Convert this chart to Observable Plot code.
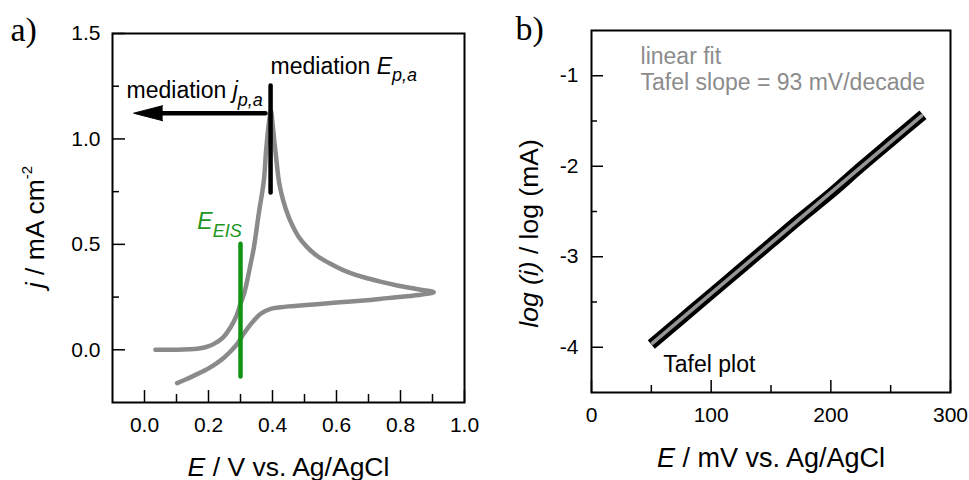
<!DOCTYPE html>
<html><head><meta charset="utf-8">
<script src="https://cdn.jsdelivr.net/npm/d3@7"></script>
<script src="https://cdn.jsdelivr.net/npm/@observablehq/plot@0.6"></script>
<style>
body{margin:0;background:#fff;}
#wrap{position:relative;width:969px;height:480px;overflow:hidden;background:#fff;}
#wrap svg{position:absolute;top:0;}
</style></head><body><div id="wrap"></div>
<script>
// ---------- Panel a: cyclic voltammogram ----------
const cvE = [0.034, 0.10, 0.14, 0.165, 0.19, 0.217, 0.245, 0.269, 0.287, 0.30, 0.312, 0.321, 0.332, 0.342, 0.357, 0.373, 0.38, 0.389, 0.395,
  0.401, 0.405, 0.41, 0.415, 0.42, 0.428, 0.44, 0.456, 0.48, 0.508, 0.54, 0.581, 0.63, 0.685, 0.74, 0.79, 0.85, 0.904,
  0.842, 0.76, 0.685, 0.60, 0.529, 0.46, 0.425, 0.394, 0.363, 0.342, 0.325, 0.31, 0.29, 0.27, 0.25, 0.225, 0.20, 0.175, 0.15, 0.125, 0.102];
const cvJ = [0.0, 0.0, 0.002, 0.005, 0.012, 0.028, 0.058, 0.107, 0.16, 0.218, 0.27, 0.329, 0.41, 0.487, 0.645, 0.803, 0.945, 1.08, 1.135,
  1.06, 1.0, 0.93, 0.86, 0.80, 0.74, 0.675, 0.61, 0.54, 0.487, 0.445, 0.408, 0.372, 0.344, 0.322, 0.305, 0.288, 0.273,
  0.257, 0.245, 0.234, 0.224, 0.215, 0.207, 0.202, 0.194, 0.171, 0.139, 0.108, 0.076, 0.028, -0.006, -0.035, -0.064, -0.088, -0.108, -0.126, -0.143, -0.158];
const aXMajor = [0, 0.2, 0.4, 0.6, 0.8, 1.0];
const aXMinor = [0.1, 0.3, 0.5, 0.7, 0.9];
const aYMajor = [0, 0.5, 1.0, 1.5];
const aYMinor = [0.25, 0.75, 1.25];
const eisE = [0.3, 0.3], eisJ = [-0.127, 0.503];
const epaE = [0.394, 0.394], epaJ = [0.746, 1.253];
const jpaE = [0.378, 0.0], jpaJ = [1.122, 1.122];
const jpaTipE = [-0.034], jpaTipJ = [1.122];
const aNoteText = ["mediation E_p,a", "mediation j_p,a", "E_EIS"];
const aNoteE = [0.394, -0.056, 0.165];
const aNoteJ = [1.31, 1.192, 0.575];
const aNoteColor = ["black", "black", "#1f961f"];

// ---------- Panel b: Tafel plot ----------
const tafelE = [50, 75, 100, 125, 150, 175, 200, 225, 250, 277];
const tafelLog = [-3.97, -3.69, -3.41, -3.13, -2.85, -2.57, -2.30, -2.01, -1.73, -1.43];
const fitE = [51, 276], fitLog = [-3.955, -1.44];
const bXMajor = [0, 100, 200, 300];
const bXMinor = [50, 150, 250];
const bYMajor = [-1, -2, -3, -4];
const bYMinor = [-1.5, -2.5, -3.5];
const bNoteText = ["linear fit", "Tafel slope = 93 mV/decade", "Tafel plot"];
const bNoteE = [41, 41, 60];
const bNoteLog = [-0.865, -1.152, -4.279];
const bNoteColor = ["#8c8c8c", "#8c8c8c", "black"];

const SANS = "'Liberation Sans', Arial, sans-serif";
const SERIF = "'Liberation Serif', 'Times New Roman', serif";
const zip = (xs, ys, kx = "x", ky = "y") => xs.map((v, i) => ({[kx]: v, [ky]: ys[i]}));

const cv = zip(cvE, cvJ);
const eis = zip(eisE, eisJ);
const epa = zip(epaE, epaJ);
const jpa = zip(jpaE, jpaJ);
const aNotes = aNoteText.map((t, i) => ({t, x: aNoteE[i], y: aNoteJ[i], c: aNoteColor[i]}));
const tafel = zip(tafelE, tafelLog);
const fit = zip(fitE, fitLog);
const bNotes = bNoteText.map((t, i) => ({t, x: bNoteE[i], y: bNoteLog[i], c: bNoteColor[i]}));

// Panel a geometry
const aW = 484, aH = 480, aML = 112, aMR = 20, aMT = 33, aMB = 78;
const aIW = aW - aML - aMR, aIH = aH - aMT - aMB;

const plotA = Plot.plot({
  width: aW, height: aH,
  marginLeft: aML, marginRight: aMR, marginTop: aMT, marginBottom: aMB,
  style: {fontFamily: SANS, fontSize: "21px", color: "black", background: "white", overflow: "visible"},
  x: {domain: [-0.1, 1.0]},
  y: {domain: [-0.25, 1.5]},
  marks: [
    Plot.line(cv, {x: "x", y: "y", stroke: "#8a8a8a", strokeWidth: 4.5, curve: "catmull-rom"}),
    Plot.line(eis, {x: "x", y: "y", stroke: "#119411", strokeWidth: 4.5}),
    Plot.line(epa, {x: "x", y: "y", stroke: "black", strokeWidth: 4.5}),
    Plot.line(jpa, {x: "x", y: "y", stroke: "black", strokeWidth: 4.5}),
    Plot.vector(zip(jpaTipE, jpaTipJ), {x: "x", y: "y", length: 29, rotate: -90, shape: "spike", r: 7.5, anchor: "end", fill: "black", stroke: "black", strokeWidth: 1}),
    Plot.text(aNotes, {x: "x", y: "y", text: "t", fill: "c", textAnchor: "start", lineAnchor: "bottom", fontSize: 23, fontFamily: SANS}),
    Plot.tickX(aXMajor, {x: d => d, insetTop: aIH - 12, stroke: "black", strokeWidth: 1.5}),
    Plot.tickX(aXMinor, {x: d => d, insetTop: aIH - 8, stroke: "black", strokeWidth: 1.5}),
    Plot.tickY(aYMajor, {y: d => d, insetRight: aIW - 13, stroke: "black", strokeWidth: 1.5}),
    Plot.tickY(aYMinor, {y: d => d, insetRight: aIW - 7, stroke: "black", strokeWidth: 1.5}),
    Plot.axisX(aXMajor, {tickSize: 0, tickPadding: 15, tickFormat: d3.format(".1f"), label: null, fontSize: 21}),
    Plot.axisY(aYMajor, {tickSize: 0, tickPadding: 12, tickFormat: d3.format(".1f"), label: null, fontSize: 21}),
    Plot.text(["E / V vs. Ag/AgCl"], {text: d => d, frameAnchor: "bottom", dy: 73, textAnchor: "middle", lineAnchor: "bottom", fontSize: 26.5, fontFamily: SANS, fill: "black"}),
    Plot.text(["j / mA cm-2"], {text: d => d, frameAnchor: "left", dx: -69, dy: 9, rotate: -90, textAnchor: "middle", lineAnchor: "bottom", fontSize: 26.5, fontFamily: SANS, fill: "black"}),
    Plot.text(["a)"], {text: d => d, frameAnchor: "top-left", dx: -102, dy: 7, textAnchor: "start", lineAnchor: "bottom", fontSize: 34, fontFamily: SERIF, fill: "black"}),
    Plot.frame({stroke: "black", strokeWidth: 2})
  ]
});

// Panel b geometry
const bW = 485, bH = 480, bML = 107, bMR = 19, bMT = 30, bMB = 88;
const bIW = bW - bML - bMR, bIH = bH - bMT - bMB;

const plotB = Plot.plot({
  width: bW, height: bH,
  marginLeft: bML, marginRight: bMR, marginTop: bMT, marginBottom: bMB,
  style: {fontFamily: SANS, fontSize: "21px", color: "black", background: "white", overflow: "visible"},
  x: {domain: [0, 300]},
  y: {domain: [-4.5, -0.5]},
  marks: [
    Plot.line(tafel, {x: "x", y: "y", stroke: "black", strokeWidth: 11, strokeLinecap: "butt", curve: "catmull-rom"}),
    Plot.line(fit, {x: "x", y: "y", stroke: "#959595", strokeWidth: 3.5}),
    Plot.text(bNotes, {x: "x", y: "y", text: "t", fill: "c", textAnchor: "start", lineAnchor: "bottom", fontSize: 23, fontFamily: SANS}),
    Plot.tickX(bXMajor, {x: d => d, insetTop: bIH - 12, stroke: "black", strokeWidth: 1.5}),
    Plot.tickX(bXMinor, {x: d => d, insetTop: bIH - 7, stroke: "black", strokeWidth: 1.5}),
    Plot.tickY(bYMajor, {y: d => d, insetRight: bIW - 12, stroke: "black", strokeWidth: 1.5}),
    Plot.tickY(bYMinor, {y: d => d, insetRight: bIW - 6, stroke: "black", strokeWidth: 1.5}),
    Plot.axisX(bXMajor, {tickSize: 0, tickPadding: 15, tickFormat: d => String(d), label: null, fontSize: 21}),
    Plot.axisY(bYMajor, {tickSize: 0, tickPadding: 13, tickFormat: d => String(d), label: null, fontSize: 21}),
    Plot.text(["E / mV vs. Ag/AgCl"], {text: d => d, frameAnchor: "bottom", dy: 74, textAnchor: "middle", lineAnchor: "bottom", fontSize: 27, fontFamily: SANS, fill: "black"}),
    Plot.text(["log (i) / log (mA)"], {text: d => d, frameAnchor: "left", dx: -54, dy: 22, rotate: -90, textAnchor: "middle", lineAnchor: "bottom", fontSize: 26.5, fontFamily: SANS, fill: "black"}),
    Plot.text(["b)"], {text: d => d, frameAnchor: "top-left", dx: -76, dy: 9, textAnchor: "start", lineAnchor: "bottom", fontSize: 34, fontFamily: SERIF, fill: "black"}),
    Plot.frame({stroke: "black", strokeWidth: 2})
  ]
});

// rich text: italics, sub- and superscripts as tspans
const RICH = {
  "mediation E_p,a": [{t: "mediation "}, {t: "E", i: 1}, {t: "p,a", i: 1, s: 18, dy: 7}],
  "mediation j_p,a": [{t: "mediation "}, {t: "j", i: 1}, {t: "p,a", i: 1, s: 18, dy: 8}],
  "E_EIS": [{t: "E", i: 1}, {t: "EIS", i: 1, s: 18, dy: 8}],
  "j / mA cm-2": [{t: "j", i: 1}, {t: " / mA cm"}, {t: "-2", s: 15, dy: -12}],
  "E / V vs. Ag/AgCl": [{t: "E", i: 1}, {t: " / V vs. Ag/AgCl"}],
  "E / mV vs. Ag/AgCl": [{t: "E", i: 1}, {t: " / mV vs. Ag/AgCl"}],
  "log (i) / log (mA)": [{t: "log (i)", i: 1}, {t: " / log (mA)"}]
};
function richify(svg) {
  for (const t of svg.querySelectorAll("text")) {
    const key = t.textContent;
    const parts = RICH[key];
    if (!parts) continue;
    const target = t.querySelector("tspan") || t;
    target.textContent = "";
    for (const p of parts) {
      const ts = document.createElementNS("http://www.w3.org/2000/svg", "tspan");
      ts.textContent = p.t;
      if (p.i) ts.setAttribute("font-style", "italic");
      if (p.s) ts.setAttribute("font-size", p.s);
      if (p.dy) ts.setAttribute("dy", p.dy);
      target.appendChild(ts);
    }
  }
}
richify(plotA); richify(plotB);

const wrap = document.getElementById("wrap");
plotA.style.left = "0px";
plotB.style.left = aW + "px";
wrap.appendChild(plotA);
wrap.appendChild(plotB);
</script></body></html>
